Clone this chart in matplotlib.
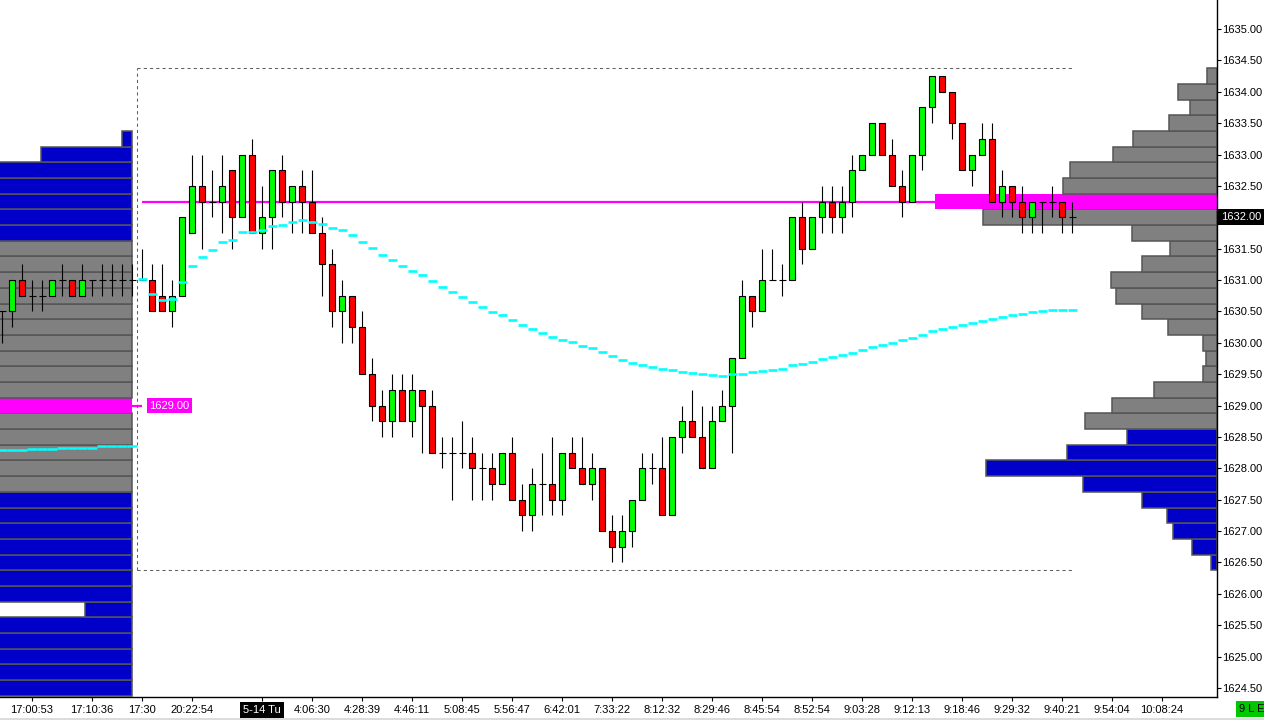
import numpy as np
import matplotlib.pyplot as plt
from matplotlib.patches import Rectangle
from matplotlib.transforms import blended_transform_factory

plt.rcParams['font.family'] = ['Liberation Sans', 'DejaVu Sans']

# one bar per column; the first 14 bars belong to the previous session
opens = [1630.5, 1630.5, 1631.0, 1630.75, 1630.75, 1630.75, 1631.0, 1631.0, 1630.75, 1631.0,
         1631.0, 1631.0, 1631.0, 1631.0,
         1631.0, 1631.0, 1630.75, 1630.5, 1630.75, 1631.75, 1632.5, 1632.25, 1632.25, 1632.75,
         1632.0, 1633.0, 1631.75, 1632.0, 1632.75, 1632.25, 1632.5, 1632.25, 1631.75, 1631.25,
         1630.5, 1630.75, 1630.25, 1629.5, 1629.0, 1628.75, 1629.25, 1628.75, 1629.25, 1629.0,
         1628.25, 1628.25, 1628.25, 1628.25, 1628.0, 1628.0, 1627.75, 1628.25, 1627.5, 1627.25,
         1627.75, 1627.75, 1627.5, 1628.25, 1628.0, 1627.75, 1628.0, 1627.0, 1626.75, 1627.0,
         1627.5, 1628.0, 1628.0, 1627.25, 1628.5, 1628.75, 1628.5, 1628.0, 1628.75, 1629.0,
         1629.75, 1630.75, 1630.5, 1631.0, 1631.0, 1631.0, 1632.0, 1631.5, 1632.0, 1632.25,
         1632.0, 1632.25, 1632.75, 1633.0, 1633.5, 1633.0, 1632.5, 1632.25, 1633.0, 1633.75,
         1634.25, 1634.0, 1633.5, 1632.75, 1633.0, 1633.25, 1632.25, 1632.5, 1632.25, 1632.0,
         1632.25, 1632.25, 1632.25, 1632.0]
highs = [1630.5, 1631.0, 1631.25, 1631.0, 1631.0, 1631.0, 1631.25, 1631.0, 1631.25, 1631.0,
         1631.25, 1631.25, 1631.25, 1631.25,
         1631.5, 1631.25, 1631.25, 1631.0, 1632.0, 1633.0, 1633.0, 1632.75, 1633.0, 1632.75,
         1633.0, 1633.25, 1632.5, 1632.75, 1633.0, 1632.5, 1632.75, 1632.75, 1632.0, 1631.5,
         1631.0, 1630.75, 1630.5, 1629.75, 1629.25, 1629.5, 1629.5, 1629.5, 1629.25, 1629.25,
         1628.5, 1628.5, 1628.75, 1628.5, 1628.25, 1628.25, 1628.25, 1628.5, 1627.75, 1628.0,
         1628.25, 1628.5, 1628.25, 1628.5, 1628.5, 1628.25, 1628.0, 1627.25, 1627.25, 1627.5,
         1628.25, 1628.25, 1628.5, 1628.5, 1629.0, 1629.25, 1629.0, 1629.0, 1629.25, 1629.75,
         1631.0, 1630.75, 1631.5, 1631.5, 1631.25, 1632.0, 1632.25, 1632.0, 1632.5, 1632.5,
         1632.5, 1633.0, 1633.0, 1633.5, 1633.5, 1633.25, 1632.75, 1633.0, 1633.75, 1634.25,
         1634.25, 1634.0, 1633.5, 1633.0, 1633.5, 1633.5, 1632.75, 1632.5, 1632.5, 1632.25,
         1632.25, 1632.5, 1632.25, 1632.25]
lows = [1630.0, 1630.25, 1630.75, 1630.5, 1630.5, 1630.75, 1630.75, 1630.75, 1630.75, 1630.75,
        1630.75, 1630.75, 1630.75, 1630.75,
        1631.0, 1630.5, 1630.5, 1630.25, 1630.75, 1631.75, 1631.5, 1632.0, 1631.75, 1631.5,
        1632.0, 1631.75, 1631.5, 1631.5, 1632.0, 1631.75, 1631.75, 1631.75, 1630.75, 1630.25,
        1630.0, 1630.0, 1629.5, 1628.75, 1628.5, 1628.5, 1628.75, 1628.5, 1628.25, 1628.25,
        1628.0, 1627.5, 1628.0, 1627.5, 1627.5, 1627.5, 1627.75, 1627.5, 1627.0, 1627.0,
        1627.25, 1627.25, 1627.25, 1628.0, 1627.75, 1627.5, 1627.0, 1626.5, 1626.5, 1626.75,
        1627.5, 1627.75, 1627.25, 1627.25, 1628.25, 1628.5, 1628.0, 1628.0, 1628.75, 1628.25,
        1629.75, 1630.25, 1630.5, 1631.0, 1630.75, 1631.0, 1631.25, 1631.5, 1631.75, 1631.75,
        1631.75, 1632.0, 1632.75, 1633.0, 1633.0, 1632.5, 1632.0, 1632.25, 1632.75, 1633.5,
        1634.0, 1633.25, 1632.75, 1632.5, 1633.0, 1632.25, 1632.0, 1632.0, 1631.75, 1631.75,
        1631.75, 1632.0, 1631.75, 1631.75]
closes = [1630.5, 1631.0, 1630.75, 1630.75, 1630.75, 1631.0, 1631.0, 1630.75, 1631.0, 1631.0,
          1631.0, 1631.0, 1631.0, 1631.0,
          1631.0, 1630.5, 1630.5, 1630.75, 1632.0, 1632.5, 1632.25, 1632.25, 1632.5, 1632.0,
          1633.0, 1631.75, 1632.0, 1632.75, 1632.25, 1632.5, 1632.25, 1631.75, 1631.25, 1630.5,
          1630.75, 1630.25, 1629.5, 1629.0, 1628.75, 1629.25, 1628.75, 1629.25, 1629.0, 1628.25,
          1628.25, 1628.25, 1628.25, 1628.0, 1628.0, 1627.75, 1628.25, 1627.5, 1627.25, 1627.75,
          1627.75, 1627.5, 1628.25, 1628.0, 1627.75, 1628.0, 1627.0, 1626.75, 1627.0, 1627.5,
          1628.0, 1628.0, 1627.25, 1628.5, 1628.75, 1628.5, 1628.0, 1628.75, 1629.0, 1629.75,
          1630.75, 1630.5, 1631.0, 1631.0, 1631.0, 1632.0, 1631.5, 1632.0, 1632.25, 1632.0,
          1632.25, 1632.75, 1633.0, 1633.5, 1633.0, 1632.5, 1632.25, 1633.0, 1633.75, 1634.25,
          1634.0, 1633.5, 1632.75, 1633.0, 1633.25, 1632.25, 1632.5, 1632.25, 1632.0, 1632.25,
          1632.25, 1632.25, 1632.0, 1632.0]

# cyan average line, one value per bar
avg_line = [1628.29, 1628.29, 1628.29, 1628.31, 1628.31, 1628.31, 1628.33, 1628.33, 1628.33, 1628.33,
            1628.35, 1628.35, 1628.35, 1628.36,
            1631.02, 1630.77, 1630.68, 1630.70, 1630.97, 1631.23, 1631.37, 1631.48, 1631.60, 1631.64,
            1631.77, 1631.77, 1631.79, 1631.86, 1631.88, 1631.93, 1631.95, 1631.93, 1631.89, 1631.83,
            1631.79, 1631.71, 1631.61, 1631.51, 1631.40, 1631.32, 1631.22, 1631.15, 1631.08, 1630.99,
            1630.89, 1630.81, 1630.73, 1630.65, 1630.57, 1630.49, 1630.45, 1630.37, 1630.29, 1630.22,
            1630.16, 1630.10, 1630.04, 1630.01, 1629.95, 1629.92, 1629.85, 1629.79, 1629.73, 1629.68,
            1629.65, 1629.61, 1629.58, 1629.56, 1629.53, 1629.52, 1629.50, 1629.49, 1629.47, 1629.50,
            1629.51, 1629.53, 1629.55, 1629.57, 1629.59, 1629.64, 1629.66, 1629.70, 1629.74, 1629.77,
            1629.80, 1629.84, 1629.89, 1629.94, 1629.97, 1630.00, 1630.04, 1630.08, 1630.12, 1630.18,
            1630.22, 1630.25, 1630.28, 1630.32, 1630.35, 1630.38, 1630.41, 1630.44, 1630.46, 1630.49,
            1630.51, 1630.53, 1630.53, 1630.53]
session_start = 14

# volume profile of the previous session (rows of 0.25)
prev_prices = list(np.arange(1624.5, 1633.26, 0.25))
prev_volume = [200] * len(prev_prices)
prev_volume[prev_prices.index(1633.25)] = 10
prev_volume[prev_prices.index(1633.0)] = 91
prev_volume[prev_prices.index(1625.75)] = 46
prev_poc = 1629.0

# volume profile of the current session
cur_prices = list(np.arange(1626.5, 1634.26, 0.25))
cur_volume = [6, 25, 44, 50, 75, 134, 231, 150, 90, 132, 105, 63, 14, 11, 14, 49,
              75, 101, 106, 75, 47, 85, 234, 282, 154, 147, 104, 84, 48, 27, 39, 10]
cur_poc = 1632.25

x_labels = ['17:00:53', '17:10:36', '17:30', '20:22:54', '5-14 Tu', '4:06:30', '4:28:39',
            '4:46:11', '5:08:45', '5:56:47', '6:42:01', '7:33:22', '8:12:32', '8:29:46',
            '8:45:54', '8:52:54', '9:03:28', '9:12:13', '9:18:46', '9:29:32', '9:40:21',
            '9:54:04', '10:08:24']
x_label_bars = [3, 9, 14, 19, 26, 31, 36, 41, 46, 51, 56, 61, 66, 71, 76, 81, 86, 91,
                96, 101, 106, 111, 116]
last_price = 1632.0

GREEN = '#00ff00'
RED = '#ff0000'
BLUE = '#0000c8'
GRAY = '#808080'
MAGENTA = '#ff00ff'
CYAN = '#00ffff'
EDGE = '#555555'
VOL_SCALE = 0.1  # bar-widths per contract

fig = plt.figure(figsize=(12.64, 7.2), dpi=100)
ax = fig.add_axes([0, 23 / 720, 1217 / 1264, 697 / 720])
xmin, xmax = -0.2, 121.5
ax.set_xlim(xmin, xmax)
ax.set_ylim(1624.356, 1635.462)

n = len(opens)
xs = np.arange(n)

# previous session profile
prev_right = 12.95
for p, v in zip(prev_prices, prev_volume):
    if p == prev_poc:
        fc, ec = MAGENTA, 'none'
    elif p >= 1631.75 or p <= 1627.5:
        fc, ec = BLUE, EDGE
    else:
        fc, ec = GRAY, EDGE
    ax.add_patch(Rectangle((prev_right - v * VOL_SCALE, p - 0.125), v * VOL_SCALE, 0.25,
                           facecolor=fc, edgecolor=ec, lw=1.1, zorder=1))

# current session profile
for p, v in zip(cur_prices, cur_volume):
    if p == cur_poc:
        fc, ec = MAGENTA, 'none'
    elif p <= 1628.5:
        fc, ec = BLUE, EDGE
    else:
        fc, ec = GRAY, EDGE
    ax.add_patch(Rectangle((xmax - v * VOL_SCALE, p - 0.125), v * VOL_SCALE, 0.25,
                           facecolor=fc, edgecolor=ec, lw=1.1, zorder=1.2))

# session range boxes
dash = dict(color='#606060', lw=0.75, ls=(0, (3, 3)), zorder=0.5)
ax.hlines(max(highs[:session_start]) + 0.125, xmin, prev_right, **dash)
box_l, box_r = session_start - 0.5, n - 1 + 0.1
box_top = max(highs[session_start:]) + 0.125
box_bot = min(lows[session_start:]) - 0.125
ax.hlines([box_top, box_bot], box_l, box_r, **dash)
ax.vlines(box_l, box_bot, box_top, **dash)

# poc lines
cur_poc_left = xmax - max(cur_volume) * VOL_SCALE
ax.hlines(cur_poc, session_start, cur_poc_left, color=MAGENTA, lw=1.6, zorder=2)
ax.hlines(prev_poc, prev_right, session_start, color=MAGENTA, lw=1.6, zorder=2)
ax.text(session_start + 0.75, prev_poc, '1629.00', color='white', fontsize=8,
        ha='left', va='center', zorder=6,
        bbox=dict(facecolor=MAGENTA, edgecolor='none', pad=1.5))

# candles
bw = 0.62
for i in range(n):
    o, h, l, c = opens[i], highs[i], lows[i], closes[i]
    ax.vlines(i, l, h, color='black', lw=0.8, zorder=3)
    if o == c:
        ax.hlines(o, i - 0.35, i + 0.35, color='black', lw=0.8, zorder=3)
    else:
        ax.add_patch(Rectangle((i - bw / 2, min(o, c)), bw, abs(c - o),
                               facecolor=GREEN if c > o else RED, edgecolor='black',
                               lw=0.8, zorder=3.2))

# average line
ax.hlines(avg_line[:session_start], xs[:session_start] - 0.5, xs[:session_start] + 0.5,
          color=CYAN, lw=1.8, zorder=4)
ax.hlines(avg_line[session_start:], xs[session_start:] - 0.45, xs[session_start:] + 0.45,
          color=CYAN, lw=1.9, zorder=4)

# axes styling
for side in ['left', 'top']:
    ax.spines[side].set_visible(False)
for side in ['right', 'bottom']:
    ax.spines[side].set_linewidth(1.0)
    ax.spines[side].set_color('black')
ax.yaxis.tick_right()
yt = np.arange(1624.5, 1635.01, 0.5)
ax.set_yticks(yt)
# the last price tag replaces its own tick label
ax.set_yticklabels(['' if v == last_price else f'{v:.2f}' for v in yt])
ax.tick_params(axis='y', length=3, width=0.8, pad=1, labelsize=8)
ax.set_xticks(x_label_bars)
ax.set_xticklabels(x_labels)
ax.tick_params(axis='x', length=3, width=0.8, pad=3, labelsize=8)
for lbl in ax.get_xticklabels():
    if lbl.get_text() == '5-14 Tu':
        lbl.set_color('white')
        lbl.set_bbox(dict(facecolor='black', edgecolor='none', pad=2.5))

tr = blended_transform_factory(ax.transAxes, ax.transData)
ax.text(1 + 4 / 1217, last_price, f'{last_price:.2f}', transform=tr, color='white',
        fontsize=8, ha='left', va='center', zorder=10,
        bbox=dict(facecolor='black', edgecolor='none', pad=2))

fig.text(1239 / 1264, 11 / 720, '9 L E', fontsize=8, ha='left', va='center',
         bbox=dict(facecolor='#00c800', edgecolor='none', pad=2.5))
fig.patches.append(Rectangle((0, 0), 1, 2 / 720, transform=fig.transFigure,
                             facecolor='#dcdcdc', edgecolor='none'))

fig.savefig('out.png', dpi=100)
